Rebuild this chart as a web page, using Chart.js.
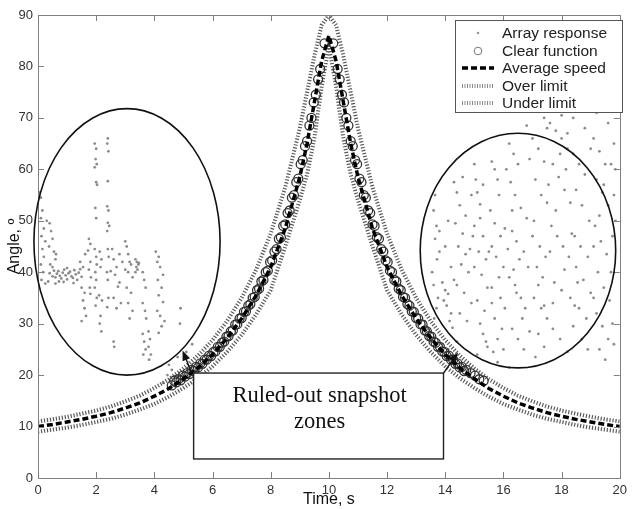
<!DOCTYPE html>
<html>
<head>
<meta charset="utf-8">
<script src="https://cdn.jsdelivr.net/npm/chart.js@4.4.1/dist/chart.umd.min.js"></script>
<style>
html, body { margin: 0; padding: 0; background: #fff; }
#wrap { width: 632px; height: 509px; position: relative; }
</style>
</head>
<body>
<div id="wrap"><canvas id="angleChart"></canvas></div>
<script>
//------------------------------------
// Data
//------------------------------------

const timeAxis = [0, 0.5, 1, 1.5, 2, 2.5, 3, 3.5, 4, 4.5, 5, 5.5, 6, 6.5, 7, 7.5, 8, 8.5, 9, 9.25, 9.5, 9.75,
    10, 10.25, 10.5, 10.75, 11, 11.5, 12, 12.5, 13, 13.5, 14, 14.5, 15, 15.5, 16, 16.5, 17, 17.5, 18, 18.5, 19, 19.5, 20];

const avgSpeed = [10.0, 10.4, 10.9, 11.4, 12.0, 12.7, 13.6, 14.6, 15.9, 17.4, 19.3, 21.4, 24.0, 27.2, 31.0, 35.5, 41.0, 48.5, 58.5, 65, 73, 81,
    86, 81, 73, 65, 58.5, 48.5, 41.0, 35.5, 31.0, 27.2, 24.0, 21.4, 19.3, 17.4, 15.9, 14.6, 13.6, 12.7, 12.0, 11.4, 10.9, 10.4, 10.0];

const overLimit = [11.0, 11.4, 11.9, 12.5, 13.1, 13.9, 14.9, 16.0, 17.5, 19.2, 21.3, 23.8, 26.8, 30.5, 35.0, 40.5, 47.5, 56.5, 68, 75, 82, 88,
    90, 88, 82, 75, 68, 56.5, 47.5, 40.5, 35.0, 30.5, 26.8, 23.8, 21.3, 19.2, 17.5, 16.0, 14.9, 13.9, 13.1, 12.5, 11.9, 11.4, 11.0];

const underLimit = [9.0, 9.4, 9.8, 10.3, 10.9, 11.5, 12.3, 13.3, 14.4, 15.8, 17.5, 19.4, 21.7, 24.5, 27.8, 31.8, 36.5, 45.0, 54.0, 59, 66, 76,
    84, 76, 66, 59, 54.0, 45.0, 36.5, 31.8, 27.8, 24.5, 21.7, 19.4, 17.5, 15.8, 14.4, 13.3, 12.3, 11.5, 10.9, 10.3, 9.8, 9.4, 9.0];

const clearT = [4.6, 4.75, 4.9, 5.05, 5.2, 5.35, 5.5, 5.65, 5.8, 5.95, 6.1, 6.25, 6.4, 6.55, 6.7, 6.85, 7.0, 7.15, 7.3, 7.45, 7.6, 7.75, 7.9, 8.05,
    8.2, 8.35, 8.5, 8.65, 8.8, 8.95, 9.1, 9.25, 9.4, 9.55, 9.7, 9.85,
    10.15, 10.3, 10.45, 10.6, 10.75, 10.9, 11.05, 11.2, 11.35, 11.5, 11.65, 11.8, 11.95, 12.1, 12.25, 12.4, 12.55, 12.7, 12.85, 13.0,
    13.15, 13.3, 13.45, 13.6, 13.75, 13.9, 14.05, 14.2, 14.35, 14.5, 14.65,
    4.68, 4.83, 4.98, 5.13, 5.28, 5.43, 5.58, 5.73, 5.88, 6.03, 6.18, 6.33, 6.48, 6.63, 6.78, 6.93, 7.08, 7.23, 7.38, 7.53, 7.68,
    7.83, 7.98, 8.13, 8.28, 8.43, 8.58, 8.73, 8.88, 9.03, 9.18, 9.33, 9.48, 9.63,
    10.37, 10.52, 10.67, 10.82, 10.97, 11.12, 11.27, 11.42, 11.57, 11.72, 11.87, 12.02, 12.17, 12.32, 12.47, 12.62, 12.77,
    12.92, 13.07, 13.22, 13.37, 13.52, 13.67, 13.82, 13.97, 14.12, 14.27, 14.42, 14.57, 14.72, 14.87, 15.02, 15.17, 15.32];

const clearAng = [18.0, 18.6, 19.0, 19.7, 20.2, 20.8, 21.5, 22.2, 23.0, 23.7, 24.6, 25.5, 26.5, 27.6, 28.7, 29.9, 31.1, 32.4, 33.8, 35.2, 36.8, 38.5, 40.3, 42.3,
    44.5, 46.8, 49.3, 52.0, 55.0, 58.2, 61.8, 65.5, 70.0, 74.5, 79.5, 84.5,
    84.5, 79.5, 74.5, 70.0, 65.5, 61.8, 58.2, 55.0, 52.0, 49.3, 46.8, 44.5, 42.3, 40.3, 38.5, 36.8, 35.2, 33.8, 32.4, 31.1,
    29.9, 28.7, 27.6, 26.5, 25.5, 24.6, 23.7, 23.0, 22.2, 21.5, 20.8,
    18.9, 19.2, 19.9, 20.4, 21.0, 21.6, 22.3, 23.0, 23.8, 24.5, 25.5, 26.3, 27.5, 28.5, 29.8, 31.0, 32.3, 33.5, 35.0, 36.5, 38.2,
    40.0, 42.0, 44.0, 46.5, 49.0, 51.5, 54.5, 57.5, 61.0, 64.5, 68.5, 73.0, 77.5,
    77.5, 73.0, 68.5, 64.5, 61.0, 57.5, 54.5, 51.5, 49.0, 46.5, 44.0, 42.0, 40.0, 38.2, 36.5, 35.0, 33.5,
    32.3, 31.0, 29.8, 28.5, 27.5, 26.3, 25.5, 24.5, 23.8, 23.0, 22.3, 21.6, 21.0, 20.4, 19.9, 19.2, 18.9];

// array response, left zone
const leftZoneT = [
    0.1, 0.15, 0.1, 0.2, 0.12, 0.25, 0.15, 0.2, 0.1, 0.18, 0.12, 0.25, 0.05, 0.3,
    0.4, 0.45, 0.5, 0.38, 0.55, 0.6, 0.42, 0.5, 0.62, 0.35, 0.6,
    0.4, 0.5, 0.55, 0.6, 0.65, 0.7, 0.75, 0.8, 0.85, 0.9, 0.95, 1.0, 1.05, 1.1, 1.15, 1.2, 1.25, 1.3, 1.35, 1.4, 1.45, 1.5, 0.72, 1.0, 1.22, 0.88,
    1.45, 1.55, 1.5, 1.6, 1.55, 1.6, 1.65, 1.5, 1.62,
    1.75, 1.8, 1.72, 1.8, 1.75, 1.82, 1.78, 1.8,
    1.95, 2.0, 1.98, 2.02, 1.95, 2.0, 2.03, 1.97, 2.0, 1.95, 2.0, 2.02, 1.97, 2.0, 1.95, 2.02, 1.98,
    2.12, 2.18, 2.15, 2.1, 2.2, 2.15, 2.12, 2.18,
    2.4, 2.38, 2.42, 2.4, 2.38, 2.42, 2.4, 2.45, 2.38, 2.4, 2.43, 2.37, 2.4, 2.42, 2.38,
    2.55, 2.6, 2.7, 2.65, 2.8, 2.75, 2.6, 2.85, 2.7, 2.6, 2.62, 2.9, 2.5, 2.8,
    3.0, 3.05, 3.1, 3.15, 3.2, 3.0, 3.1, 3.25, 3.05, 3.2, 3.1, 3.25, 3.15,
    3.35, 3.4, 3.45, 3.38, 3.42, 3.35, 3.47,
    3.6, 3.65, 3.7, 3.6, 3.68, 3.72, 3.6, 3.65, 3.7, 3.62,
    3.8, 3.85, 3.8, 3.88, 3.82,
    4.05, 4.15, 4.1, 4.2, 4.3, 4.12, 4.25, 4.15, 4.3, 4.1, 4.2, 4.35, 4.25, 4.15,
    4.9, 4.88,
    4.5, 4.6, 4.45, 4.7, 4.8, 5.1, 5.3, 4.3
];
const leftZoneAng = [
    54.5, 52, 50.5, 48.5, 47, 46, 44.5, 43, 41.5, 40, 38.5, 37.8, 55.5, 50,
    49.5, 48, 46.5, 45, 44, 42.5, 41.5, 41, 43.5, 38.2, 37.8,
    39.8, 39.2, 40.3, 39, 39.7, 40.2, 39.3, 38.8, 39.9, 40.5, 39.4, 38.6, 39.8, 40.1, 39.2, 38.9, 40.4, 39.6, 38.5, 39.9, 40.6, 39.1, 38.2, 40.8, 37.9, 38.1,
    42, 41, 37, 36, 34.5, 33, 31.5, 30.5, 43.5,
    46.5, 45.5, 44.2, 42, 40.5, 39, 37, 35.8,
    65, 64, 62, 61, 60.4, 57.5, 57, 52.5, 50.5, 44.5, 43, 41.5, 40, 38.5, 37, 35, 33.5,
    44, 42.5, 41, 35.5, 34.5, 31.5, 30, 28.5,
    66, 65, 63.5, 57.7, 52.8, 52, 49.6, 49, 48, 44.5, 43, 40, 38.5, 35, 33.2,
    44.5, 42.5, 41, 39.5, 38, 37.2, 35, 34, 33, 26.5, 25.5, 42, 40.2, 43.5,
    46, 45, 43.5, 42, 41.5, 40.5, 40, 39, 37, 36, 34, 32.5, 31,
    42.5, 42, 41.5, 41, 40.5, 40, 41.8,
    40, 38.5, 37, 34, 32.5, 31, 28, 26.5, 25, 24,
    28.5, 27, 25.5, 24, 23,
    44, 43, 42, 41, 39.5, 38.5, 37, 35.5, 34.2, 32.5, 31.5, 30.5, 29.5, 28.2,
    33, 30,
    22, 21, 20, 19.8, 23.5, 24.5, 26, 18.5
];

// array response, right zone
const rightZoneT = [
    13.6, 13.7, 13.65, 13.8, 13.72, 13.6, 13.75, 13.7, 13.62,
    13.9, 14.0, 14.1, 14.05, 14.2, 14.15, 14.25, 13.95,
    14.3, 14.4, 14.5, 14.35, 14.6, 14.45, 14.7, 14.55, 14.8, 14.4, 14.65, 14.9, 14.5, 14.75, 14.85,
    15.05, 15.1, 15.2, 15.0, 15.3, 15.15, 15.4, 15.25, 15.45, 15.1, 15.35, 15.2, 15.3, 15.4, 15.45, 15.0,
    15.6, 15.7, 15.8, 15.9, 15.6, 15.75, 16.0, 15.85, 15.6, 15.9, 16.05, 15.7, 15.95, 15.8, 16.0, 15.65, 16.05,
    16.2, 16.35, 16.5, 16.25, 16.4, 16.6, 16.8, 16.3, 16.45, 16.7, 16.55, 16.85, 16.4, 16.6, 16.75, 16.3, 16.5, 16.7, 16.2, 16.9,
    17.0, 17.2, 17.4, 17.1, 17.3, 17.5, 17.0, 17.25, 17.45, 17.15, 17.35, 17.05, 17.3, 17.5, 17.2, 17.4, 17.1,
    17.6, 17.8, 18.0, 18.2, 17.7, 17.9, 18.1, 18.3, 17.65, 17.85, 18.05, 18.25, 17.75, 18.0, 18.3, 17.7, 17.95, 18.2, 18.1,
    18.4, 18.6, 18.8, 18.5, 18.7, 18.95, 18.45, 18.65, 18.9, 18.5, 18.75, 19.0, 18.6, 18.85, 18.4,
    19.1, 19.3, 19.5, 19.2, 19.4, 19.6, 19.15, 19.35, 19.55, 19.25, 19.45, 19.65, 19.2, 19.4, 19.6, 19.3, 19.5,
    16.6, 17.3, 17.9, 18.4, 18.8, 19.2, 19.6, 19.8, 19.85, 19.8, 19.85, 18.0, 17.5, 16.8,
    13.4, 13.5, 13.3, 13.9, 14.1,
    13.55, 13.8, 13.65, 14.0, 14.2, 14.1, 14.3, 14.6, 14.9, 14.7, 15.0, 15.3, 15.55, 15.7, 15.5, 15.85, 16.1, 16.3, 16.15, 16.45,
    16.65, 16.9, 17.05, 17.2, 17.4, 17.6, 17.55, 17.8, 17.95, 18.15, 18.35, 18.55, 18.7, 18.9, 19.0, 19.1, 19.3, 19.45, 19.7, 19.75,
    19.7, 19.75, 19.8, 18.2, 17.4, 16.9, 19.3, 18.6, 15.2, 14.95, 15.6, 16.35, 17.7, 18.45, 19.1, 14.4, 15.1, 15.8, 16.2
];
const rightZoneAng = [
    52, 49, 46.5, 44, 42.5, 37.5, 35, 33, 31,
    38, 36.5, 35.8, 33.5, 32, 30.5, 29.2, 34.5,
    57.5, 55.5, 53, 49.5, 47.5, 45, 43.5, 41.5, 40, 37.5, 36, 34, 32, 30.5, 44.5,
    58, 55.5, 53.2, 49, 47, 44, 42.5, 39.5, 37, 34.5, 32.5, 30, 28, 26.5, 25.5, 41,
    61.5, 60, 58, 47, 45, 43, 41, 39, 37, 35, 33, 31, 29, 27, 25, 24.5, 48.5,
    65, 63, 61, 57.5, 55, 52.5, 50.5, 48, 46, 44, 42.5, 41, 37.5, 35, 33, 29, 27, 25, 39, 62,
    66, 64, 61.5, 58, 55, 53.5, 47, 45, 43, 41, 39, 35, 33, 31, 28, 25.5, 23.5,
    69, 67.5, 66, 64, 61, 58.5, 56, 53.5, 49, 47, 45, 43, 38, 36.5, 35, 29, 27, 24.5, 40.5,
    63, 61, 59, 56, 53, 50, 47, 45, 43, 41, 38.5, 36, 33, 31, 29.5,
    66, 63.5, 61, 58, 55.5, 53, 49, 46, 43.5, 40, 37, 34.5, 32, 29.5, 27, 25, 23,
    72, 74, 72, 70, 68, 71, 69, 65, 60, 55, 50, 70.5, 68, 68.5,
    29, 27.5, 30.5, 26, 25,
    40, 48, 55, 45, 41, 50, 38.5, 58.5, 55, 51, 61, 57, 52, 49.5, 44, 55, 60, 52, 44.5, 36,
    31, 28.5, 50, 37.5, 33.5, 44, 57, 52, 63, 60, 47.5, 38, 27, 25, 64, 45, 51, 57, 61, 47,
    40, 30, 26, 67, 70, 71.5, 73, 72, 50.5, 47, 34, 40.5, 34, 33.5, 35, 26.5, 24, 22.5, 21.5
];

const xTickStep = 2;
const yTickStep = 10;

//------------------------------------
// Helpers
//------------------------------------

function pairs(xs, ys) {
    const out = [];
    for (let i = 0; i < Math.min(xs.length, ys.length); i++) {
        out.push({ x: xs[i], y: ys[i] });
    }
    return out;
}

const SANS = "'Liberation Sans', Arial, sans-serif";
const SERIF = "'Liberation Serif', 'Times New Roman', serif";

function drawArrow(ctx, x0, y0, x1, y1) {
    const ang = Math.atan2(y1 - y0, x1 - x0);
    const len = 10, half = 4;
    ctx.beginPath();
    ctx.moveTo(x0, y0);
    ctx.lineTo(x1 - Math.cos(ang) * len * 0.8, y1 - Math.sin(ang) * len * 0.8);
    ctx.stroke();
    ctx.beginPath();
    ctx.moveTo(x1, y1);
    ctx.lineTo(x1 - Math.cos(ang) * len - Math.sin(ang) * half, y1 - Math.sin(ang) * len + Math.cos(ang) * half);
    ctx.lineTo(x1 - Math.cos(ang) * len + Math.sin(ang) * half, y1 - Math.sin(ang) * len - Math.cos(ang) * half);
    ctx.closePath();
    ctx.fill();
}

//------------------------------------
// Overlay: frame, ellipses, box, legend
//------------------------------------

const overlay = {
    id: "overlay",
    afterDatasetsDraw(chart) {
        const ctx = chart.ctx;
        const xs = chart.scales.x, ys = chart.scales.y;
        const a = chart.chartArea;
        const px = v => xs.getPixelForValue(v);
        const py = v => ys.getPixelForValue(v);

        ctx.save();

        // axes frame with inward ticks
        ctx.strokeStyle = "#808080";
        ctx.lineWidth = 1;
        ctx.strokeRect(Math.round(a.left) + 0.5, Math.round(a.top) + 0.5, Math.round(a.right - a.left), Math.round(a.bottom - a.top));
        ctx.beginPath();
        xs.ticks.forEach(t => {
            const x = Math.round(px(t.value)) + 0.5;
            ctx.moveTo(x, a.bottom); ctx.lineTo(x, a.bottom - 6);
            ctx.moveTo(x, a.top); ctx.lineTo(x, a.top + 6);
        });
        ys.ticks.forEach(t => {
            const y = Math.round(py(t.value)) + 0.5;
            ctx.moveTo(a.left, y); ctx.lineTo(a.left + 6, y);
            ctx.moveTo(a.right, y); ctx.lineTo(a.right - 6, y);
        });
        ctx.stroke();

        // ruled-out ellipses
        ctx.strokeStyle = "#111";
        ctx.lineWidth = 1.6;
        [[3.06, 45.9, 3.2, 25.9], [16.5, 44.2, 3.36, 22.8]].forEach(e => {
            const cx = px(e[0]), cy = py(e[1]);
            const rx = px(e[0] + e[2]) - cx, ry = cy - py(e[1] + e[3]);
            ctx.beginPath();
            ctx.ellipse(cx, cy, rx, ry, 0, 0, Math.PI * 2);
            ctx.stroke();
        });

        // annotation box
        const bl = px(5.35), br = px(13.94), bt = py(20.4), bb = py(3.7);
        ctx.fillStyle = "#fff";
        ctx.fillRect(bl, bt, br - bl, bb - bt);
        ctx.strokeStyle = "#222";
        ctx.lineWidth = 1.4;
        ctx.strokeRect(bl, bt, br - bl, bb - bt);
        ctx.fillStyle = "#111";
        ctx.font = "22.5px " + SERIF;
        ctx.textAlign = "center";
        ctx.textBaseline = "middle";
        ctx.fillText("Ruled-out snapshot", (bl + br) / 2 + 1, bt + 23);
        ctx.fillText("zones", (bl + br) / 2 + 1, bt + 49);

        // arrows from box corners
        ctx.strokeStyle = "#111";
        ctx.fillStyle = "#111";
        ctx.lineWidth = 1.4;
        drawArrow(ctx, bl - 2, bt, px(4.97), py(24.8));
        drawArrow(ctx, br, bt, px(14.44), py(24.4));

        // legend
        const lx = 455, ly = 20, lw = 167, lh = 92;
        ctx.fillStyle = "#fff";
        ctx.fillRect(lx, ly, lw, lh);
        ctx.strokeStyle = "#555";
        ctx.lineWidth = 1;
        ctx.strokeRect(lx + 0.5, ly + 0.5, lw, lh);
        const rows = [33, 51, 68, 86, 103];
        const labels = ["Array response", "Clear function", "Average speed", "Over limit", "Under limit"];
        ctx.font = "15.5px " + SANS;
        ctx.textAlign = "left";
        ctx.textBaseline = "middle";
        labels.forEach((lab, i) => {
            const y = rows[i];
            ctx.save();
            if (i === 0) {
                ctx.fillStyle = "#999";
                ctx.beginPath(); ctx.arc(478, y, 1.3, 0, Math.PI * 2); ctx.fill();
            } else if (i === 1) {
                ctx.strokeStyle = "#777"; ctx.lineWidth = 1;
                ctx.beginPath(); ctx.arc(478, y, 3.8, 0, Math.PI * 2); ctx.stroke();
            } else if (i === 2) {
                ctx.strokeStyle = "#000"; ctx.lineWidth = 3.5; ctx.setLineDash([6, 3]);
                ctx.beginPath(); ctx.moveTo(462, y); ctx.lineTo(494, y); ctx.stroke();
            } else {
                ctx.strokeStyle = "#888"; ctx.lineWidth = 4; ctx.setLineDash([1, 1.5]);
                ctx.beginPath(); ctx.moveTo(462, y); ctx.lineTo(494, y); ctx.stroke();
            }
            ctx.restore();
            ctx.fillStyle = "#222";
            ctx.fillText(lab, 502, y + 1);
        });

        ctx.restore();
    }
};

//------------------------------------
// Chart
//------------------------------------

const arrayData = pairs(leftZoneT, leftZoneAng).concat(pairs(rightZoneT, rightZoneAng));

new Chart(document.getElementById("angleChart"), {
    type: "scatter",
    data: {
        datasets: [
            {
                label: "Array response",
                data: arrayData,
                pointRadius: 1.4,
                pointBackgroundColor: "#8c8c8c",
                pointBorderWidth: 0,
                showLine: false,
                order: 5
            },
            {
                label: "Over limit",
                data: pairs(timeAxis, overLimit),
                showLine: true,
                borderColor: "#5a5a5a",
                borderWidth: 4,
                borderDash: [1.2, 1.8],
                pointRadius: 0,
                order: 4
            },
            {
                label: "Under limit",
                data: pairs(timeAxis, underLimit),
                showLine: true,
                borderColor: "#5a5a5a",
                borderWidth: 4,
                borderDash: [1.2, 1.8],
                pointRadius: 0,
                order: 3
            },
            {
                label: "Clear function",
                data: pairs(clearT, clearAng),
                showLine: false,
                pointRadius: 4.5,
                pointBorderWidth: 1.3,
                pointBorderColor: "#333",
                pointBackgroundColor: "rgba(0,0,0,0)",
                order: 2
            },
            {
                label: "Average speed",
                data: pairs(timeAxis, avgSpeed),
                showLine: true,
                borderColor: "#000",
                borderWidth: 3.5,
                borderDash: [6, 3],
                pointRadius: 0,
                order: 1
            }
        ]
    },
    options: {
        responsive: true,
        maintainAspectRatio: false,
        animation: false,
        events: [],
        layout: { padding: { top: 15, right: 8, left: 0, bottom: 0 } },
        plugins: {
            legend: { display: false },
            tooltip: { enabled: false }
        },
        scales: {
            x: {
                type: "linear",
                min: 0,
                max: 20,
                ticks: { stepSize: xTickStep, color: "#333", font: { family: SANS, size: 13 }, padding: 5, maxRotation: 0 },
                grid: { display: false, drawTicks: false },
                border: { display: false },
                title: { display: true, text: "Time, s", color: "#111", font: { family: SANS, size: 16 }, padding: { top: 0, bottom: 0 } },
                afterFit(s) { s.height = 31; }
            },
            y: {
                type: "linear",
                min: 0,
                max: 90,
                ticks: { stepSize: yTickStep, color: "#333", font: { family: SANS, size: 13 }, padding: 5 },
                grid: { display: false, drawTicks: false },
                border: { display: false },
                title: { display: true, text: "Angle, º", color: "#111", font: { family: SANS, size: 16 }, padding: { top: 5, bottom: 0 } },
                afterFit(s) { s.width = 38; }
            }
        }
    },
    plugins: [overlay]
});
</script>
</body>
</html>
